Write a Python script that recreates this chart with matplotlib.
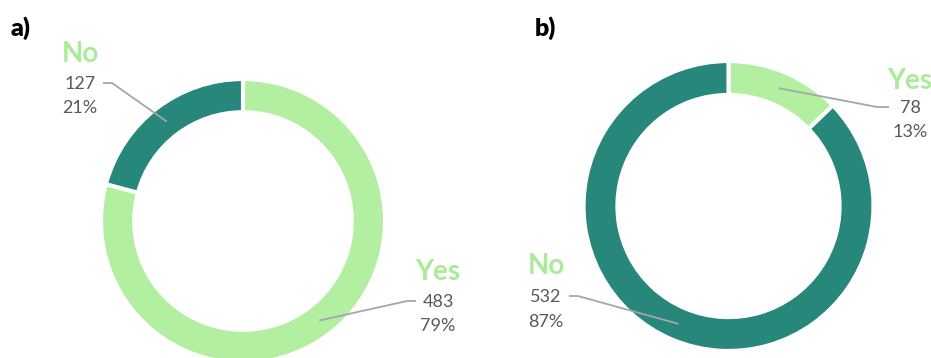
import matplotlib
matplotlib.use("Agg")
import matplotlib.pyplot as plt
import numpy as np

plt.rcParams['font.family'] = ['Lato', 'DejaVu Sans']

# Survey answers for the two questions
categories = ["Yes", "No"]
counts_a = [483, 127]
counts_b = [78, 532]
panel_titles = ["a)", "b)"]

LIGHT = "#b3efa0"
DARK = "#26877a"
NAME_COLOR = "#a9eb98"
TEXT_COLOR = "#595959"
LINE_COLOR = "#a6a6a6"

W, H = 931, 358
fig = plt.figure(figsize=(W / 100, H / 100), dpi=100)
ax = fig.add_axes([0, 0, 1, 1])


def py(y):
    # pixel-from-top to axis y (y axis points up)
    return H - y


panels = [
    dict(counts=counts_a, center=(243, 221), radius=142,
         title_xy=(21, 28),
         # per category: label anchor (x, y_name, y_count, y_pct), elbow start, elbow end
         labels={
             "No": dict(x=80, y=(54, 84, 108), line=[(103, 83), (112, 83)]),
             "Yes": dict(x=438, y=(272, 302, 326), line=[(416, 301), (407, 301)]),
         }),
    dict(counts=counts_b, center=(728.5, 206), radius=145,
         title_xy=(545, 28),
         labels={
             "Yes": dict(x=910, y=(81, 108, 132), line=[(889, 107), (877, 107)]),
             "No": dict(x=546, y=(266, 297, 322), line=[(569, 296), (578, 296)]),
         }),
]

for title, p in zip(panel_titles, panels):
    counts = p["counts"]
    cx, cy = p["center"]
    R = p["radius"]
    width = 0.234 * R
    ax.pie(counts, colors=[LIGHT, DARK], startangle=90, counterclock=False,
           radius=R, center=(cx, py(cy)),
           wedgeprops=dict(width=width, edgecolor="white", linewidth=3))

    total = sum(counts)
    cum = 0.0
    for cat, v in zip(categories, counts):
        frac = v / total
        mid = np.deg2rad(90 - 360 * (cum + frac / 2))
        cum += frac
        rm = R - width / 2
        tip = (cx + rm * np.cos(mid), py(cy) + rm * np.sin(mid))

        lab = p["labels"][cat]
        (x0, y0), (x1, y1) = lab["line"]
        ax.plot([x0, x1, tip[0]], [py(y0), py(y1), tip[1]],
                color=LINE_COLOR, lw=1.3, solid_capstyle="butt", zorder=5)

        yn, yc, yp = lab["y"]
        ax.text(lab["x"], py(yn), cat, ha="center", va="center",
                fontsize=20, fontweight="bold", color=NAME_COLOR)
        ax.text(lab["x"], py(yc), f"{v}", ha="center", va="center",
                fontsize=13, color=TEXT_COLOR)
        ax.text(lab["x"], py(yp), f"{round(100 * frac)}%", ha="center",
                va="center", fontsize=13, color=TEXT_COLOR)

    tx, ty = p["title_xy"]
    ax.text(tx, py(ty), title, ha="center", va="center", fontsize=18,
            fontweight="heavy", color="black")

ax.set_xlim(0, W)
ax.set_ylim(0, H)
ax.set_aspect("auto")
ax.axis("off")

fig.savefig("out.png", dpi=100)
